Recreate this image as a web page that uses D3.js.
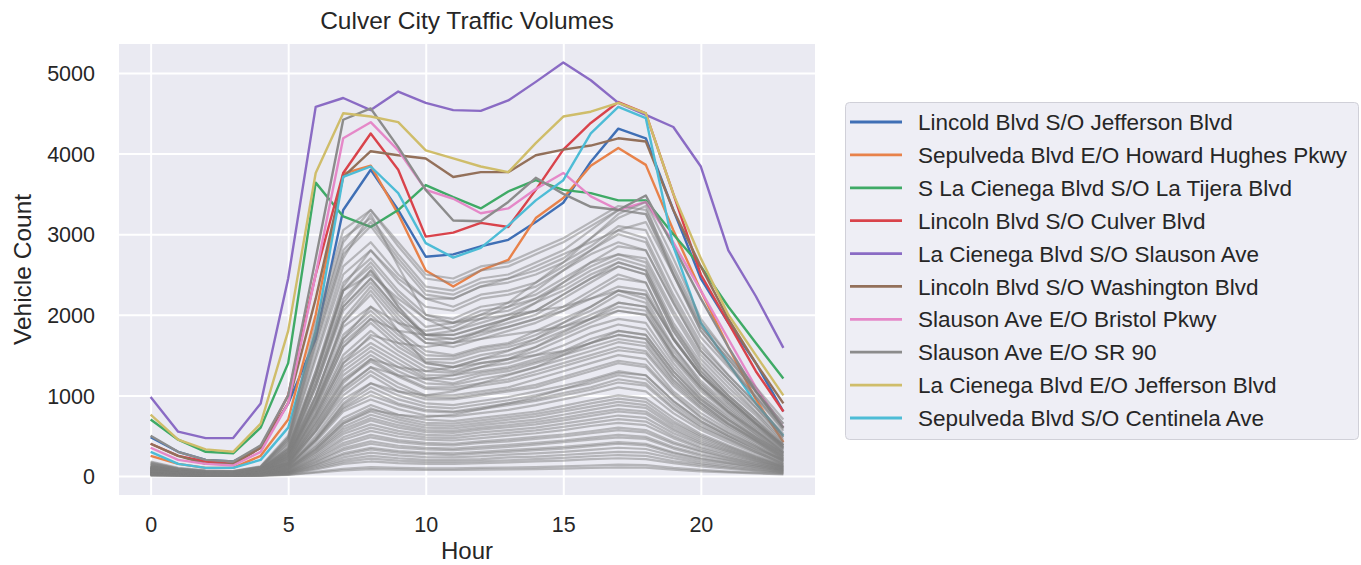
<!DOCTYPE html>
<html><head><meta charset="utf-8">
<script src="https://cdn.jsdelivr.net/npm/d3@7"></script>
<style>
html,body{margin:0;padding:0;background:#fff;}
svg{display:block;font-family:"Liberation Sans",Arial,sans-serif;}
</style></head>
<body><svg id="chart" width="1361" height="565"></svg>
<script>
const hours = d3.range(0, 24);
const xTicks = [0, 5, 10, 15, 20];
const yTicks = [0, 1000, 2000, 3000, 4000, 5000];
const title = "Culver City Traffic Volumes";
const xLabel = "Hour";
const yLabel = "Vehicle Count";

const seriesNames = [
  "Lincold Blvd S/O Jefferson Blvd",
  "Sepulveda Blvd E/O Howard Hughes Pkwy",
  "S La Cienega Blvd S/O La Tijera Blvd",
  "Lincoln Blvd S/O Culver Blvd",
  "La Cienega Blvd S/O Slauson Ave",
  "Lincoln Blvd S/O Washington Blvd",
  "Slauson Ave E/O Bristol Pkwy",
  "Slauson Ave E/O SR 90",
  "La Cienega Blvd E/O Jefferson Blvd",
  "Sepulveda Blvd S/O Centinela Ave"
];
const seriesColors = ["#3F6FB5","#E8824A","#3FAA66","#D9434B","#8A6BC4","#93705A","#E588C8","#8C8C8C","#CFBD6A","#4DBCD6"];

const lincolnJefferson   = [480,300,200,180,350,900,1700,3300,3800,3300,2720,2750,2850,2930,3150,3390,3900,4310,4190,3300,2450,1900,1400,800];
const sepulvedaHoward    = [250,150,100,100,250,700,2000,3750,3850,3250,2550,2350,2550,2680,3200,3450,3850,4070,3860,3050,2300,1600,950,420];
const laCienegaTijera    = [700,450,300,280,600,1400,3640,3220,3090,3300,3610,3460,3320,3530,3670,3550,3510,3420,3420,3000,2600,2100,1650,1210];
const lincolnCulver      = [400,250,180,150,350,1000,2500,3760,4250,3800,2970,3020,3140,3090,3550,4050,4380,4640,4500,3500,2500,1900,1300,800];
const laCienegaSlauson   = [980,550,470,470,900,2450,4580,4690,4540,4770,4630,4540,4530,4660,4890,5130,4910,4630,4480,4330,3840,2800,2230,1590];
const lincolnWashington  = [400,250,150,150,350,900,2200,3710,4030,3980,3940,3710,3770,3770,3980,4050,4100,4190,4150,3300,2600,1950,1400,900];
const slausonBristol     = [350,200,150,130,300,900,2500,4190,4390,4040,3550,3440,3260,3320,3560,3760,3470,3300,3400,2900,2300,1700,1100,600];
const slausonSR90        = [500,300,200,180,380,1000,2700,4420,4560,4080,3550,3170,3160,3400,3700,3500,3340,3300,3480,2850,2200,1600,1050,600];
const laCienegaJefferson = [760,450,330,300,650,1800,3760,4500,4460,4390,4040,3940,3840,3770,4130,4460,4520,4630,4500,3500,2700,2000,1500,1000];
const sepulvedaCentinela = [300,150,100,100,200,600,1800,3710,3840,3510,2890,2710,2830,3110,3420,3670,4250,4580,4440,2850,1900,1400,900,500];

const highlighted = [lincolnJefferson, sepulvedaHoward, laCienegaTijera, lincolnCulver, laCienegaSlauson,
  lincolnWashington, slausonBristol, slausonSR90, laCienegaJefferson, sepulvedaCentinela];

// other count stations (gray background lines)
const g01 = [180,100,70,60,120,500,1900,3050,3300,2900,2500,2450,2600,2650,2800,2950,3150,3350,3300,2600,1900,1500,1100,700];
const g02 = [150,90,60,55,110,450,1700,2800,3150,2700,2300,2250,2400,2450,2550,2700,2950,3200,3350,2500,1800,1400,1000,600];
const g03 = [140,80,50,50,100,400,1500,2600,2900,2500,2200,2100,2250,2300,2400,2600,2800,3000,2900,2200,1600,1250,900,500];
const g04 = [120,70,45,45,90,350,1300,2400,2700,2300,2000,1950,2100,2150,2250,2450,2650,2750,2700,2050,1500,1150,800,450];
const g05 = [110,60,40,40,80,300,1200,2200,2550,2150,1850,1900,2000,2050,2200,2350,2550,2700,2600,1900,1400,1050,750,400];
const g06 = [100,60,40,40,80,320,1250,2300,2500,2200,1950,1800,1900,2000,2150,2300,2500,2650,2550,1850,1350,1000,700,380];
const g07 = [100,55,35,35,75,280,1100,2050,2400,2000,1700,1700,1800,1900,2000,2200,2400,2600,2500,1800,1300,950,650,350];
const g08 = [90,50,35,30,70,260,1000,1900,2300,1900,1650,1600,1700,1800,1900,2050,2250,2450,2400,1700,1250,900,620,330];
const g09 = [90,50,30,30,65,250,950,1850,2100,1800,1550,1500,1600,1650,1800,1950,2100,2300,2200,1600,1150,850,580,300];
const g10 = [80,45,30,30,60,230,900,1700,2000,1700,1450,1450,1550,1600,1700,1850,2000,2150,2100,1500,1100,800,550,290];
const g11 = [80,45,30,25,60,220,850,1600,1900,1600,1400,1350,1450,1500,1600,1750,1900,2050,2000,1450,1050,780,520,270];
const g12 = [70,40,25,25,55,200,800,1500,1800,1550,1350,1300,1400,1450,1550,1700,1850,1950,1900,1400,1000,750,500,260];
const g13 = [70,40,25,25,50,190,750,1400,1650,1450,1250,1250,1300,1350,1450,1550,1700,1800,1750,1300,950,700,470,240];
const g14 = [60,35,20,20,45,170,700,1300,1550,1350,1200,1150,1250,1300,1400,1500,1600,1700,1650,1200,900,650,440,220];
const g15 = [60,35,20,20,45,160,650,1200,1450,1250,1100,1100,1150,1200,1300,1400,1500,1600,1550,1150,850,620,420,210];
const g16 = [55,30,20,20,40,150,600,1100,1350,1150,1000,1000,1050,1100,1200,1300,1400,1500,1450,1050,780,570,380,190];
const g17 = [50,30,20,15,40,140,550,1000,1250,1050,950,950,1000,1050,1100,1200,1300,1400,1350,1000,720,530,360,180];
const g18 = [50,25,15,15,35,130,500,950,1150,1000,900,880,930,980,1050,1120,1200,1300,1250,930,680,500,330,170];
const g19 = [45,25,15,15,30,120,450,850,1050,900,820,800,850,900,950,1030,1100,1200,1150,850,620,460,300,150];
const g20 = [40,25,15,15,30,110,420,800,950,830,750,740,780,820,880,950,1020,1100,1050,780,570,420,280,140];
const g21 = [40,20,15,10,25,100,380,720,880,760,700,680,720,760,800,870,940,1000,960,720,520,380,250,130];
const g22 = [35,20,10,10,25,90,340,650,800,700,630,620,660,700,740,800,860,920,880,650,480,350,230,120];
const g23 = [30,20,10,10,20,80,300,580,720,630,570,560,600,630,670,720,780,830,800,590,430,320,210,110];
const g24 = [30,15,10,10,20,70,270,520,640,560,510,500,540,570,600,650,700,750,720,530,390,290,190,100];
const g25 = [25,15,10,10,18,60,230,450,560,490,450,440,470,500,530,570,620,660,630,470,340,250,170,90];
const g26 = [20,12,8,8,15,50,200,380,480,420,390,380,410,430,460,490,530,570,540,400,300,220,150,80];
const g27 = [20,10,8,8,12,45,170,320,400,350,330,320,340,360,390,420,450,480,460,340,250,190,130,70];
const g28 = [15,10,5,5,10,35,140,260,330,290,270,260,280,300,320,340,370,400,380,280,210,160,110,60];
const g29 = [12,8,5,5,8,30,110,200,250,220,200,200,210,230,240,260,280,300,290,220,160,120,85,45];
const g30 = [10,6,4,4,6,20,80,150,180,160,150,150,160,170,180,190,210,220,210,160,120,90,60,35];
const g31 = [8,5,3,3,5,15,50,90,110,100,95,95,100,105,110,120,130,140,135,100,75,55,40,25];
const g32 = [120,70,50,45,100,420,1600,2700,3250,2600,2000,1900,1950,2000,2050,2100,2200,2300,2250,1700,1250,950,650,380];
const g33 = [90,50,35,35,80,350,1300,2300,2600,2100,1700,1650,1700,1750,1800,1850,1950,2050,2000,1500,1100,800,560,320];
const g34 = [70,40,30,25,60,280,1000,1900,2250,1800,1400,1350,1400,1450,1500,1550,1650,1750,1700,1250,900,650,450,250];
const g35 = [130,75,50,45,80,250,900,1700,2100,1900,1800,1850,2000,2150,2400,2650,2950,3250,3400,2700,1950,1500,1050,600];
const g36 = [100,60,40,35,65,200,750,1400,1750,1650,1600,1650,1800,1950,2150,2400,2650,2850,2800,2150,1550,1200,850,480];
const g37 = [80,45,30,30,50,160,600,1150,1450,1350,1300,1350,1450,1550,1700,1900,2100,2300,2250,1700,1250,950,650,380];
const g38 = [60,35,25,20,40,120,450,900,1150,1050,1000,1050,1150,1250,1350,1500,1650,1800,1750,1300,950,700,480,280];
const g39 = [40,25,15,15,30,90,330,650,820,760,730,760,830,900,980,1080,1180,1280,1250,930,680,500,340,200];
const g40 = [110,60,40,40,85,330,1250,2350,2800,2450,2200,2200,2350,2450,2600,2750,2900,3050,2950,2250,1650,1250,900,520];
const g41 = [160,90,60,55,110,480,1800,2950,3200,2750,2350,2300,2450,2500,2650,2800,3050,3300,3250,2500,1850,1450,1050,650];
const g42 = [100,55,40,35,75,300,1150,2100,2450,2050,1750,1750,1850,1950,2050,2250,2450,2650,2550,1850,1350,1000,700,380];
const g43 = [85,50,30,30,65,240,920,1750,2050,1750,1500,1480,1580,1630,1750,1900,2050,2250,2150,1550,1130,830,560,300];
const g44 = [65,38,22,22,48,180,720,1350,1600,1400,1220,1200,1280,1330,1420,1530,1650,1750,1700,1250,920,680,450,230];
const g45 = [45,26,16,15,32,125,470,880,1100,950,860,840,890,940,1000,1080,1150,1250,1200,890,650,480,315,160];
const g46 = [170,95,65,60,115,470,1750,2900,3300,2850,2450,2400,2550,2600,2750,2900,3100,3300,3250,2550,1850,1450,1050,650];
const g47 = [130,75,50,50,95,380,1450,2500,2800,2400,2100,2050,2200,2250,2350,2550,2750,2900,2800,2150,1550,1200,850,480];
const g48 = [115,65,45,42,85,330,1250,2300,2650,2250,1950,1900,2050,2100,2200,2400,2600,2750,2650,2000,1450,1100,780,420];
const g49 = [95,55,35,35,75,290,1100,2100,2450,2050,1750,1750,1850,1950,2050,2250,2450,2600,2500,1800,1300,980,680,360];
const g50 = [85,48,32,30,68,260,980,1950,2350,1950,1650,1650,1750,1850,1950,2100,2300,2500,2400,1720,1260,920,640,340];
const g51 = [75,42,28,27,58,225,880,1650,1950,1650,1420,1400,1500,1560,1660,1800,1950,2100,2050,1480,1080,790,530,280];
const g52 = [65,38,24,24,52,200,780,1450,1720,1500,1300,1280,1350,1400,1500,1620,1770,1880,1820,1350,980,720,480,250];
const g53 = [55,32,20,20,42,160,640,1180,1420,1230,1080,1070,1120,1170,1260,1360,1460,1560,1520,1120,830,600,400,200];
const g54 = [50,28,18,17,38,145,560,1050,1300,1100,980,970,1020,1070,1130,1230,1330,1430,1380,1020,740,540,365,185];
const g55 = [42,24,15,14,30,115,440,830,1000,880,800,790,830,880,930,1000,1070,1160,1120,830,600,450,295,150];
const g56 = [36,21,12,12,26,95,360,680,840,730,660,650,690,730,770,830,900,960,920,680,500,365,240,125];
const g57 = [28,17,10,10,20,75,290,550,690,600,545,535,575,605,640,690,745,800,770,565,410,305,200,105];
const g58 = [22,13,8,8,16,55,215,410,510,445,410,400,430,455,485,515,555,600,570,420,315,230,155,82];
const g59 = [16,10,6,6,11,40,150,280,350,310,290,280,300,320,340,360,390,420,400,295,220,165,115,62];
const g60 = [100,58,38,36,78,300,1150,2150,2550,2100,1750,1700,1780,1850,1950,2050,2200,2350,2300,1700,1250,950,660,360];
const g61 = [110,62,42,40,72,230,850,1600,1950,1800,1750,1800,1950,2100,2300,2550,2800,3050,3150,2500,1800,1380,970,560];
const g62 = [70,40,28,27,48,150,560,1080,1350,1250,1200,1250,1350,1450,1600,1780,1950,2150,2100,1600,1180,880,600,350];
const g63 = [150,85,58,52,108,440,1650,2750,3100,2650,2250,2200,2350,2400,2500,2650,2850,3100,3050,2350,1720,1350,980,580];
const g64 = [60,35,22,21,44,165,670,1250,1500,1300,1150,1130,1200,1260,1350,1450,1550,1660,1610,1180,870,640,430,215];
const g65 = [32,19,11,11,23,85,320,610,760,665,600,590,630,665,700,760,820,880,845,620,455,335,220,115];
const g66 = [25,15,9,9,18,65,250,480,600,525,480,470,505,535,565,610,660,705,675,495,360,270,180,95];
const g67 = [20,12,7,7,13,48,180,345,430,375,350,340,365,385,410,440,475,510,485,360,270,200,135,72];
const g68 = [14,9,5,5,9,33,125,230,290,255,235,230,245,265,280,300,325,350,335,250,185,140,95,52];
const g69 = [11,7,4,4,7,25,95,175,215,190,175,175,185,195,210,225,245,260,250,185,140,105,70,40];
const g70 = [6,4,2,2,4,12,40,70,85,78,74,74,78,82,86,92,100,108,104,78,58,44,32,20];

const grayLines = [g01,g02,g03,g04,g05,g06,g07,g08,g09,g10,g11,g12,g13,g14,g15,g16,g17,g18,g19,g20,
  g21,g22,g23,g24,g25,g26,g27,g28,g29,g30,g31,g32,g33,g34,g35,g36,g37,g38,g39,g40,g41,g42,g43,g44,g45,
  g46,g47,g48,g49,g50,g51,g52,g53,g54,g55,g56,g57,g58,g59,g60,g61,g62,g63,g64,g65,g66,g67,g68,g69,g70];

const svg = d3.select("#chart");
const plot = {left:119, right:815, top:44, bottom:495};
const x = d3.scaleLinear().domain([-1.15, 24.15]).range([plot.left, plot.right]);
const y = d3.scaleLinear().domain([-236, 5360]).range([plot.bottom, plot.top]);
const textColor = "#262626";

svg.append("rect").attr("x", plot.left).attr("y", plot.top)
  .attr("width", plot.right - plot.left).attr("height", plot.bottom - plot.top).attr("fill", "#EAEAF2");

svg.append("clipPath").attr("id","clip").append("rect")
  .attr("x", plot.left).attr("y", plot.top).attr("width", plot.right - plot.left).attr("height", plot.bottom - plot.top);

// grid
const xAxis = d3.axisBottom(x).tickValues(xTicks).tickSize(-(plot.bottom - plot.top)).tickPadding(22).tickFormat(d3.format("d"));
const gx = svg.append("g").attr("transform", `translate(0,${plot.bottom})`).call(xAxis);
const yAxis = d3.axisLeft(y).tickValues(yTicks).tickSize(-(plot.right - plot.left)).tickPadding(24).tickFormat(d3.format("d"));
const gy = svg.append("g").attr("transform", `translate(${plot.left},0)`).call(yAxis);
[gx, gy].forEach(g => {
  g.select(".domain").remove();
  g.selectAll(".tick line").attr("stroke", "#ffffff").attr("stroke-width", 2);
  g.selectAll(".tick text").attr("fill", textColor).attr("font-size", "21.5px")
    .attr("font-family", '"Liberation Sans", Arial, sans-serif');
});
gx.selectAll(".tick text").attr("dy", null).attr("y", 37);
gy.selectAll(".tick text").attr("dy", "0.36em");

const line = d3.line().x((d, i) => x(hours[i])).y(d => y(d));
const lines = svg.append("g").attr("clip-path", "url(#clip)");

lines.selectAll("path.hl").data(highlighted).join("path").attr("class","hl")
  .attr("d", line).attr("fill", "none")
  .attr("stroke", (d, i) => seriesColors[i]).attr("stroke-width", 2.4)
  .attr("stroke-linejoin", "round");

lines.selectAll("path.bg").data(grayLines).join("path").attr("class","bg")
  .attr("d", line).attr("fill", "none")
  .attr("stroke", "#808080").attr("stroke-opacity", 0.5).attr("stroke-width", 2.2)
  .attr("stroke-linejoin", "round");

// title and labels
svg.append("text").attr("x", (plot.left + plot.right) / 2).attr("y", 29)
  .attr("text-anchor", "middle").attr("font-size", "24.5px").attr("fill", textColor).text(title);
svg.append("text").attr("x", (plot.left + plot.right) / 2).attr("y", 559)
  .attr("text-anchor", "middle").attr("font-size", "24px").attr("fill", textColor).text(xLabel);
svg.append("text").attr("transform", `translate(31,${(plot.top + plot.bottom) / 2}) rotate(-90)`)
  .attr("text-anchor", "middle").attr("font-size", "24.5px").attr("fill", textColor).text(yLabel);

// legend
const leg = svg.append("g");
leg.append("rect").attr("x", 845.5).attr("y", 102.5).attr("width", 513).attr("height", 337)
  .attr("rx", 4).attr("fill", "#EEEEF5").attr("stroke", "#D0D0D8").attr("stroke-width", 1);
const rowY = d3.scaleLinear().domain([0, 9]).range([122, 418]);
seriesNames.forEach((name, i) => {
  leg.append("line").attr("x1", 850).attr("x2", 902).attr("y1", rowY(i)).attr("y2", rowY(i))
    .attr("stroke", seriesColors[i]).attr("stroke-width", 2.8);
  leg.append("text").attr("x", 918).attr("y", rowY(i)).attr("dy", "0.36em")
    .attr("font-size", "22.5px").attr("fill", textColor).text(name);
});
</script></body></html>
